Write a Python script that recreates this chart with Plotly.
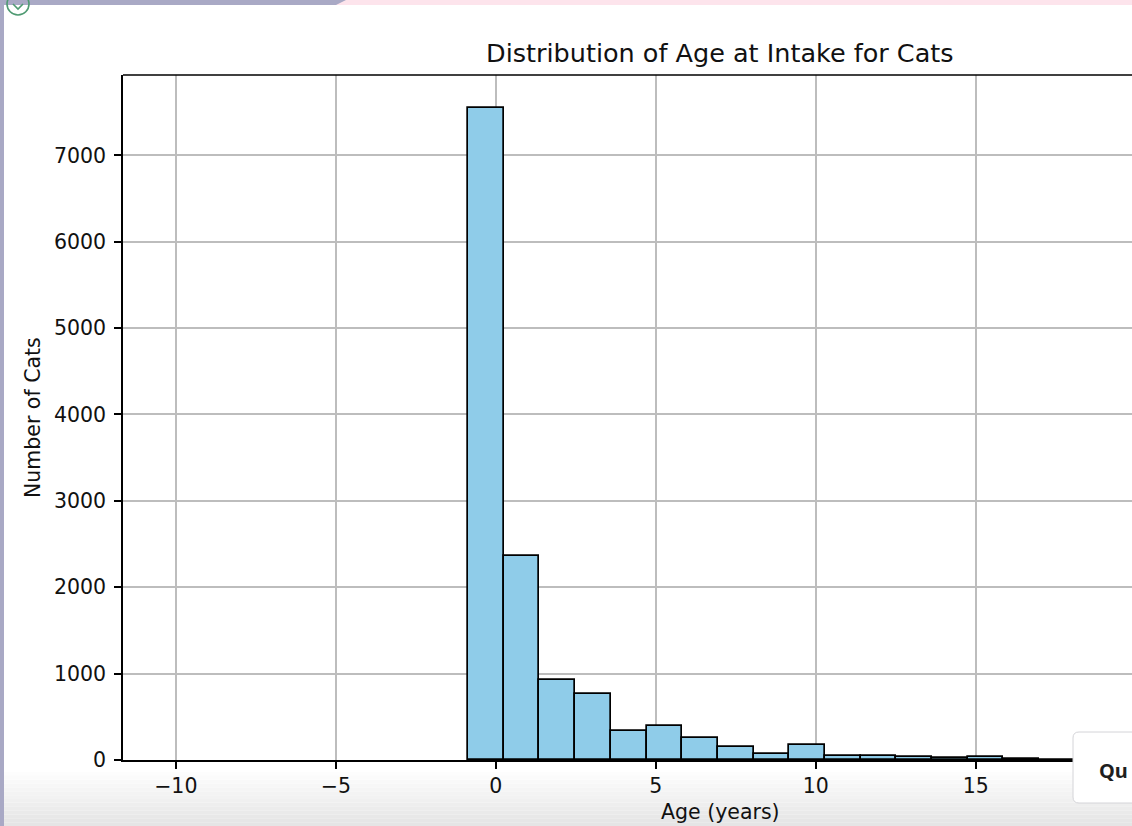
import plotly.graph_objects as go

# Histogram of cat intake ages (years)
bin_start = -0.866
bin_width = 1.115
counts = [7553, 2358, 921, 767, 338, 396, 253, 156, 67, 171,
          50, 48, 30, 28, 30, 6, 4, 2, 1]

x_ticks = [-10, -5, 0, 5, 10, 15]
y_ticks = [0, 1000, 2000, 3000, 4000, 5000, 6000, 7000]

title_text = "Distribution of Age at Intake for Cats"
x_label = "Age (years)"
y_label = "Number of Cats"

W, H = 1132, 826
ML, MR, MT, MB = 123, 0, 75, 66
PW, PH = W - ML - MR, H - MT - MB


def px(x):
    return (x - ML) / PW


def py(y):
    return (H - MB - y) / PH


centers = [bin_start + bin_width * (i + 0.5) for i in range(len(counts))]

fig = go.Figure()
fig.add_trace(go.Bar(
    x=centers, y=counts, width=bin_width,
    marker=dict(color="#8fcce9", line=dict(color="black", width=1.7)),
    hoverinfo="x+y",
))

font = "DejaVu Sans, Verdana, sans-serif"
axis_common = dict(
    ticks="outside", ticklen=7, tickwidth=1.5, tickcolor="black",
    showline=True, linecolor="black", linewidth=1.5,
    showgrid=True, gridcolor="#bdbdbd", gridwidth=1.5,
    zeroline=False, tickfont=dict(family=font, size=20.5, color="#111111"),
    layer="above traces", fixedrange=True,
)

fig.update_layout(
    width=W, height=H, autosize=False,
    margin=dict(l=ML, r=MR, t=MT, b=MB, pad=0),
    paper_bgcolor="white", plot_bgcolor="white",
    showlegend=False, bargap=0,
    xaxis=dict(range=[-11.65, 19.88], tickvals=x_ticks, **axis_common),
    yaxis=dict(range=[0, 7930], tickvals=y_ticks, ticklabelstandoff=4,
               **axis_common),
)

# titles
label_style = dict(xref="paper", yref="paper", showarrow=False,
                   xanchor="center", yanchor="middle")
fig.add_annotation(x=px(720), y=py(53), text=title_text,
                   font=dict(family=font, size=25.5, color="#111111"), **label_style)
fig.add_annotation(x=px(720), y=py(812), text=x_label,
                   font=dict(family=font, size=20.5, color="#111111"), **label_style)
fig.add_annotation(x=px(33), y=py(418), text=y_label, textangle=-90,
                   font=dict(family=font, size=20.5, color="#111111"), **label_style)

shapes = []
# top spine
shapes.append(dict(type="line", xref="paper", yref="paper",
                   x0=0, x1=1, y0=1, y1=1,
                   line=dict(color="black", width=1.5)))

# soft grey fade along the bottom of the page
n = 14
top, bot = 772, 826
for i in range(n):
    y0 = top + (bot - top) * i / n
    y1 = top + (bot - top) * (i + 1) / n
    g = int(255 - 26 * (i + 1) / n)
    shapes.append(dict(type="rect", xref="paper", yref="paper", layer="below",
                       x0=px(0), x1=px(W), y0=py(y0), y1=py(y1),
                       fillcolor=f"rgb({g},{g},{g})", line=dict(width=0)))

# window chrome: top band and left edge
shapes.append(dict(type="rect", xref="paper", yref="paper", layer="above",
                   x0=px(0), x1=px(W), y0=py(0), y1=py(5),
                   fillcolor="#fde4ec", line=dict(width=0)))
shapes.append(dict(type="path", xref="paper", yref="paper", layer="above",
                   path=f"M {px(0)},{py(0)} L {px(346)},{py(0)} L {px(336)},{py(5)} L {px(0)},{py(5)} Z",
                   fillcolor="#a9a9c5", line=dict(width=0)))
shapes.append(dict(type="rect", xref="paper", yref="paper", layer="above",
                   x0=px(0), x1=px(4), y0=py(0), y1=py(H),
                   fillcolor="#a9a9c5", line=dict(width=0)))
# status icon
shapes.append(dict(type="circle", xref="paper", yref="paper", layer="above",
                   x0=px(7), x1=px(29), y0=py(-7), y1=py(15),
                   fillcolor="rgba(0,0,0,0)", line=dict(color="#4f9a72", width=1.6)))
shapes.append(dict(type="path", xref="paper", yref="paper", layer="above",
                   path=f"M {px(13)},{py(4)} L {px(18)},{py(9)} L {px(23)},{py(4)}",
                   line=dict(color="#4f9a72", width=1.6)))

# floating button at the lower right
bx0, bx1, by0, by1, r = 1073, 1150, 732, 803, 6
shapes.append(dict(type="path", xref="paper", yref="paper", layer="above",
                   path=(f"M {px(bx0 + r)},{py(by0)} L {px(bx1)},{py(by0)} "
                         f"L {px(bx1)},{py(by1)} L {px(bx0 + r)},{py(by1)} "
                         f"Q {px(bx0)},{py(by1)} {px(bx0)},{py(by1 - r)} "
                         f"L {px(bx0)},{py(by0 + r)} "
                         f"Q {px(bx0)},{py(by0)} {px(bx0 + r)},{py(by0)} Z"),
                   fillcolor="white", line=dict(color="#d4d4d8", width=1)))
fig.update_layout(shapes=shapes)
fig.add_annotation(x=px(1097), y=py(770), xref="paper", yref="paper",
                   xanchor="left", yanchor="middle", text="<b>Qu</b>", showarrow=False,
                   font=dict(family="Noto Sans, sans-serif", size=20, color="#1f1f1f"))

fig.write_html("out.html", config={"displayModeBar": False})
